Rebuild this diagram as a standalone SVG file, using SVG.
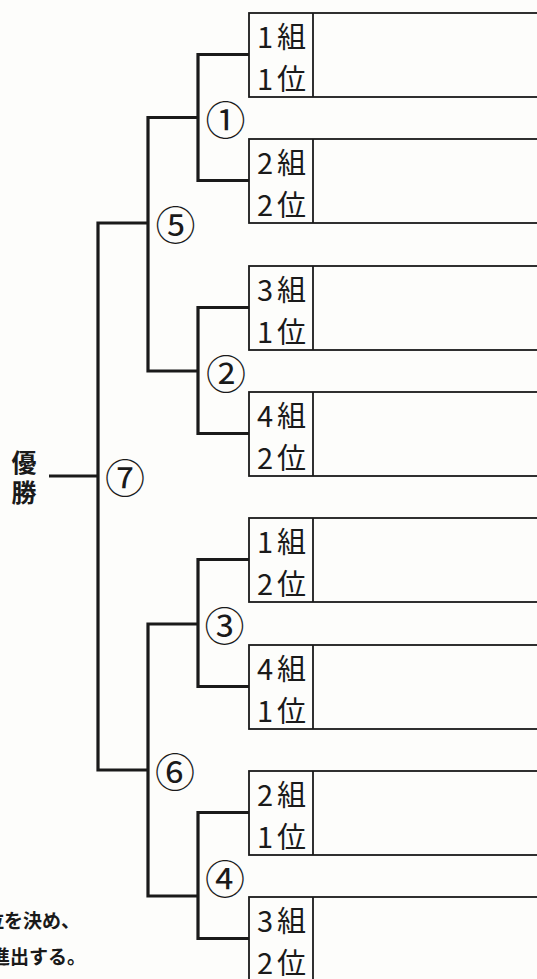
<svg xmlns="http://www.w3.org/2000/svg" width="537" height="979" viewBox="0 0 537 979">
<style>
.bg{fill:#fdfdfb}
.box{fill:none;stroke:#1a1a1a;stroke-width:1.8}
.con{fill:none;stroke:#1a1a1a;stroke-width:3.2;stroke-linejoin:miter;stroke-linecap:butt}
.t{font-family:"Noto Sans CJK JP","Noto Sans",sans-serif;font-size:29px;letter-spacing:4px;fill:#1a1a1a;dominant-baseline:central}
.n{font-family:"Noto Sans CJK JP","Noto Sans",sans-serif;font-size:40px;fill:#1a1a1a;dominant-baseline:central;text-anchor:middle}
.w{font-family:"Noto Sans CJK JP",sans-serif;font-size:25px;font-weight:bold;fill:#1a1a1a;dominant-baseline:central;text-anchor:middle}
.note{font-family:"Noto Sans CJK JP",sans-serif;font-size:19px;font-weight:bold;fill:#1a1a1a;dominant-baseline:central}
</style>
<rect class="bg" x="0" y="0" width="537" height="979"/>

<g id="connectors">
  <path class="con" d="M249,54.5 H198 V180.5 H249"/>
  <path class="con" d="M249,307.5 H198 V433.5 H249"/>
  <path class="con" d="M249,559.5 H198 V686.5 H249"/>
  <path class="con" d="M249,812.5 H198 V938.5 H249"/>
  <path class="con" d="M198,117.5 H148 V371 H198"/>
  <path class="con" d="M198,624 H148 V896 H198"/>
  <path class="con" d="M148,223 H98 V770 H148"/>
  <path class="con" d="M98,476 H49"/>
</g>

<g id="slot1">
  <rect class="box" x="249" y="13" width="320" height="84"/>
  <line class="box" x1="313" y1="13" x2="313" y2="97"/>
  <text class="t" x="257" y="35">1組</text>
  <text class="t" x="257" y="76.5">1位</text>
</g>
<g id="slot2">
  <rect class="box" x="249" y="139" width="320" height="84"/>
  <line class="box" x1="313" y1="139" x2="313" y2="223"/>
  <text class="t" x="257" y="161">2組</text>
  <text class="t" x="257" y="202.5">2位</text>
</g>
<g id="slot3">
  <rect class="box" x="249" y="266" width="320" height="84"/>
  <line class="box" x1="313" y1="266" x2="313" y2="350"/>
  <text class="t" x="257" y="288">3組</text>
  <text class="t" x="257" y="329.5">1位</text>
</g>
<g id="slot4">
  <rect class="box" x="249" y="392" width="320" height="84"/>
  <line class="box" x1="313" y1="392" x2="313" y2="476"/>
  <text class="t" x="257" y="414">4組</text>
  <text class="t" x="257" y="455.5">2位</text>
</g>
<g id="slot5">
  <rect class="box" x="249" y="518" width="320" height="84"/>
  <line class="box" x1="313" y1="518" x2="313" y2="602"/>
  <text class="t" x="257" y="540">1組</text>
  <text class="t" x="257" y="581.5">2位</text>
</g>
<g id="slot6">
  <rect class="box" x="249" y="645" width="320" height="84"/>
  <line class="box" x1="313" y1="645" x2="313" y2="729"/>
  <text class="t" x="257" y="667">4組</text>
  <text class="t" x="257" y="708.5">1位</text>
</g>
<g id="slot7">
  <rect class="box" x="249" y="771" width="320" height="84"/>
  <line class="box" x1="313" y1="771" x2="313" y2="855"/>
  <text class="t" x="257" y="793">2組</text>
  <text class="t" x="257" y="834.5">1位</text>
</g>
<g id="slot8">
  <rect class="box" x="249" y="897" width="320" height="84"/>
  <line class="box" x1="313" y1="897" x2="313" y2="981"/>
  <text class="t" x="257" y="919">3組</text>
  <text class="t" x="257" y="960.5">2位</text>
</g>

<g id="match1"><text class="n" x="225.5" y="117.5">①</text></g>
<g id="match2"><text class="n" x="226" y="372">②</text></g>
<g id="match3"><text class="n" x="224.5" y="624">③</text></g>
<g id="match4"><text class="n" x="225" y="877">④</text></g>
<g id="match5"><text class="n" x="175.5" y="223">⑤</text></g>
<g id="match6"><text class="n" x="175" y="770">⑥</text></g>
<g id="match7"><text class="n" x="125" y="476">⑦</text></g>

<g id="winner">
  <text class="w" x="24" y="461">優</text>
  <text class="w" x="24" y="491">勝</text>
</g>

<g id="note">
  <text class="note" x="-15" y="919">位を決め、</text>
  <text class="note" x="-9" y="955">進出する。</text>
</g>
</svg>
